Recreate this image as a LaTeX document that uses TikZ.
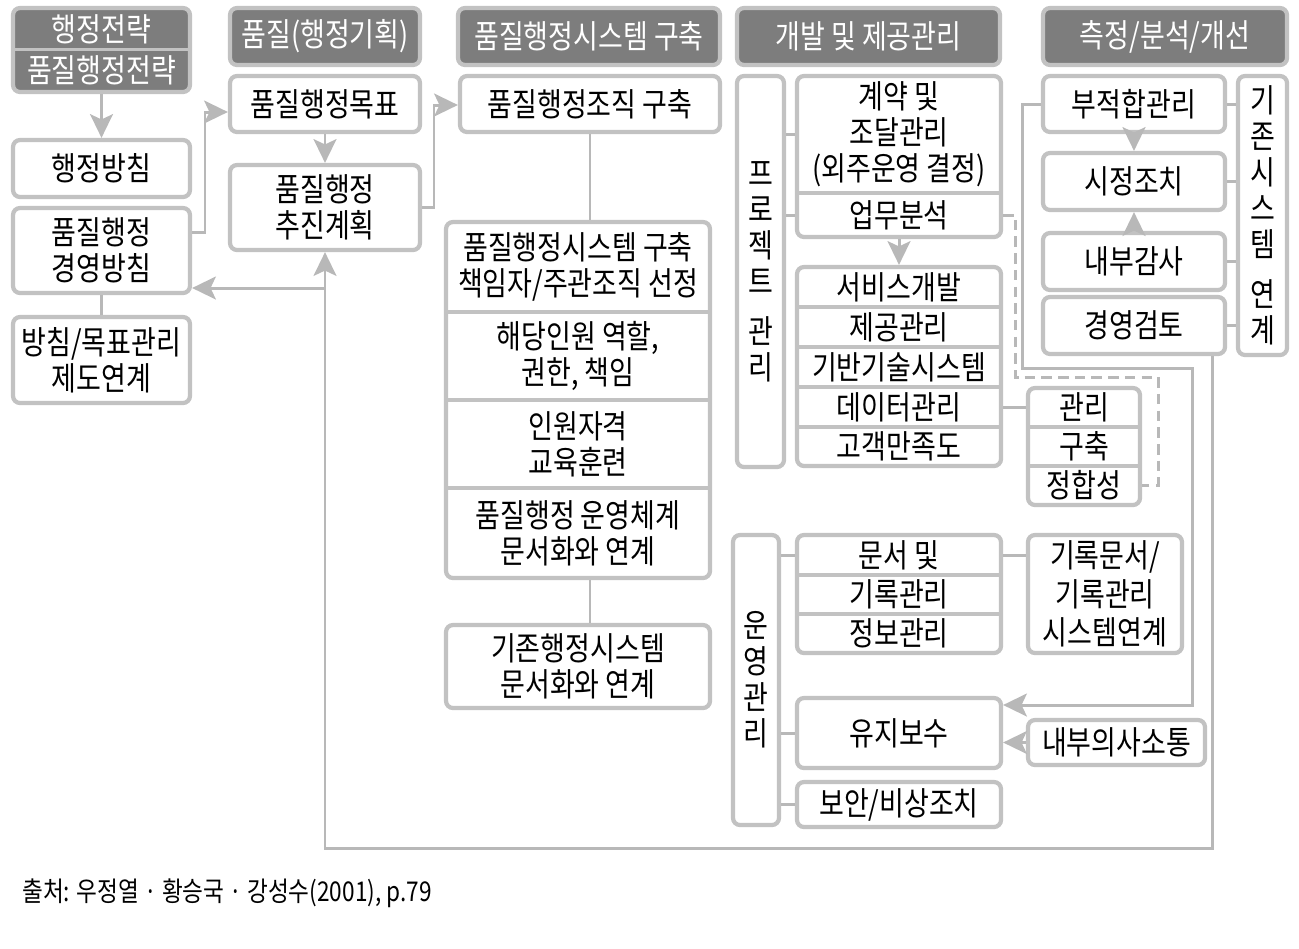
\documentclass[tikz,border=0pt]{standalone}
\usepackage{fontspec}
\setmainfont{Noto Sans CJK KR}[FakeStretch=0.83]
\usetikzlibrary{arrows.meta}
\definecolor{boxgray}{gray}{0.76}
\definecolor{headgray}{gray}{0.49}
\definecolor{linegray}{gray}{0.72}
\newlength\pxu
\setlength\pxu{0.02cm}
\tikzset{
  sz/.style 2 args={minimum width=#1\pxu,minimum height=#2\pxu},
  box/.style={draw=boxgray,line width=2.4pt,rounded corners=4pt,fill=white,align=center,inner sep=0pt},
  head/.style={box,fill=headgray,text=white},
  cell/.style={align=center,inner sep=0pt},
  sep/.style={draw=boxgray,line width=2pt},
  link/.style={draw=linegray,line width=1.7pt},
  arr/.style={link,-{Stealth[length=13.5pt,width=13pt,inset=3pt]}},
}
\begin{document}
\begin{tikzpicture}[x=0.02cm,y=-0.02cm,font=\fontsize{18.5}{20.5}\selectfont]
\useasboundingbox (0,0) rectangle (1299,948);

\node[head,sz={177}{84}] (hjjr) at (101.5,50) {};
\node[cell,text=white] (hjjr1) at (101.5,29) {행정전략};
\node[cell,text=white] (hjjr2) at (101.5,70) {품질행정전략};
\draw[sep] (hjjr.west |- 0,49.5) -- (hjjr.east |- 0,49.5);
\node[box,sz={177}{57}] (hjbc) at (101.5,168.5) {행정방침};
\node[box,sz={177}{85}] (gybc) at (101.5,250.5) {품질행정\\경영방침};
\node[box,sz={177}{86}] (bmgr) at (101.5,360) {방침/목표관리\\제도연계};

\node[head,sz={190}{57}] (qhead) at (325,36.5) {품질(행정기획)};
\node[box,sz={190}{56}] (mokpyo) at (325,104) {품질행정목표};
\node[box,sz={190}{85}] (chujin) at (325,207.5) {품질행정\\추진계획};

\node[head,sz={262}{57}] (shead) at (589,36.5) {품질행정시스템 구축};
\node[box,sz={260}{56}] (jojik) at (590,104) {품질행정조직 구축};
\node[box,sz={264}{356}] (sys) at (578,400) {};
\node[cell] (sys1) at (578,267) {품질행정시스템 구축\\책임자/주관조직 선정};
\node[cell] (sys2) at (578,356) {해당인원 역할,\\권한, 책임};
\node[cell] (sys3) at (578,444) {인원자격\\교육훈련};
\node[cell] (sys4) at (578,533) {품질행정 운영체계\\문서화와 연계};
\foreach \y in {312,400,488} \draw[sep] (sys.west |- 0,\y) -- (sys.east |- 0,\y);
\node[box,sz={264}{83}] (gijon) at (578,666.5) {기존행정시스템\\문서화와 연계};

\node[head,sz={263}{57}] (ghead) at (868.5,36.5) {개발 및 제공관리};
\node[box,sz={47}{391}] (proj) at (760.5,271.5) {프\\로\\젝\\트\\[8pt]관\\리};
\node[box,sz={204}{161}] (gyeyak) at (899,156.5) {};
\node[cell] (gyeyak1) at (899,134) {계약 및\\조달관리\\(외주운영 결정)};
\draw[sep] (gyeyak.west |- 0,193) -- (gyeyak.east |- 0,193);
\node[cell] (upmu) at (899,215) {업무분석};
\node[box,sz={204}{199}] (svc) at (899,366.5) {};
\node[cell] (svc1) at (899,287) {서비스개발};
\node[cell] (svc2) at (899,327) {제공관리};
\node[cell] (svc3) at (899,367) {기반기술시스템};
\node[cell] (svc4) at (899,407) {데이터관리};
\node[cell] (svc5) at (899,446.5) {고객만족도};
\foreach \y in {307,347,387,427} \draw[sep] (svc.west |- 0,\y) -- (svc.east |- 0,\y);
\node[box,sz={112}{117}] (dm) at (1084,446.5) {};
\node[cell] (dm1) at (1084,407.5) {관리};
\node[cell] (dm2) at (1084,446.5) {구축};
\node[cell] (dm3) at (1084,485.5) {정합성};
\foreach \y in {427,466} \draw[sep] (dm.west |- 0,\y) -- (dm.east |- 0,\y);

\node[box,sz={46}{290}] (ops) at (756,680) {운\\영\\관\\리};
\node[box,sz={204}{118}] (doc) at (899,594) {};
\node[cell] (doc1) at (899,555) {문서 및};
\node[cell] (doc2) at (899,594.5) {기록관리};
\node[cell] (doc3) at (899,633.5) {정보관리};
\foreach \y in {575,614} \draw[sep] (doc.west |- 0,\y) -- (doc.east |- 0,\y);
\node[box,sz={154}{118},font=\fontsize{18.5}{22}\selectfont] (rec) at (1105,594) {기록문서/\\기록관리\\시스템연계};
\node[box,sz={204}{70}] (yuji) at (899,733) {유지보수};
\node[box,sz={177}{45}] (naebu) at (1116.5,742.5) {내부의사소통};
\node[box,sz={204}{45}] (boan) at (899,804.5) {보안/비상조치};

\node[head,sz={244}{57}] (chead) at (1165,36.5) {측정/분석/개선};
\node[box,sz={182}{56}] (bjh) at (1134,104) {부적합관리};
\node[box,sz={182}{57}] (sjjc) at (1134,181.5) {시정조치};
\node[box,sz={182}{57}] (ngs) at (1134,261.5) {내부감사};
\node[box,sz={182}{57}] (gygt) at (1134,325.5) {경영검토};
\node[box,sz={49}{279}] (gjs) at (1262.5,215.5) {기\\존\\시\\스\\템\\[8pt]연\\계};

\node[anchor=west,inner sep=0pt,font=\fontsize{15.5}{18}\selectfont] (src) at (22,893) {출처: 우정열 · 황승국 · 강성수(2001), p.79};

\draw[arr] (hjjr) -- (hjbc);
\draw[link] (gybc) -- (bmgr);
\draw[arr] (gybc.east |- 0,232) -| (205,112) -- (mokpyo.west |- 0,112);
\draw[arr] (mokpyo) -- (chujin);
\draw[arr] (chujin.east) -| (434,105) -- (jojik.west |- 0,105);
\draw[link] (jojik.south) -- (jojik.south |- sys.north);
\draw[link] (sys.south -| jojik.south) -- (gijon.north -| jojik.south);

\draw[link] (proj.east |- gyeyak1) -- (gyeyak.west |- gyeyak1);
\draw[link] (proj.east |- upmu) -- (gyeyak.west |- upmu);
\draw[arr] (gyeyak) -- (svc);
\draw[link] (svc.east |- svc4) -- (dm.west |- svc4);
\draw[link,dash pattern=on 6pt off 3.5pt] (gyeyak.east |- upmu) -| (1015,377) -- (1158,377) |- (dm.east |- dm3);
\draw[arr] (bjh.west) -| (1022,368) -| (1192,705) -- (yuji.east |- 0,705);
\draw[arr] (naebu) -- (yuji.east |- naebu);
\draw[link] (ops.east |- doc1) -- (doc.west |- doc1);
\draw[link] (ops.east |- yuji) -- (yuji.west);
\draw[link] (ops.east |- boan) -- (boan.west);
\draw[link] (doc.east |- doc1) -- (rec.west |- doc1);

\draw[arr] (bjh) -- (sjjc);
\draw[arr] (ngs) -- (sjjc);
\foreach \b in {bjh,sjjc,ngs,gygt} \draw[link] (\b.east) -- (\b.east -| gjs.west);
\draw[arr] (gygt.south -| 1212,0) |- (chujin.south |- 0,848) -- (chujin.south);
\draw[arr] (chujin.south |- 0,288) -- (gybc.east |- 0,288);
\end{tikzpicture}
\end{document}
